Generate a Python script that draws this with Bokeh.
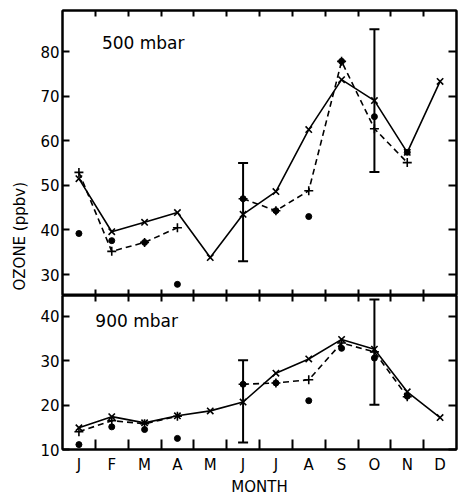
from bokeh.plotting import figure
from bokeh.models import FixedTicker, LinearAxis, Range1d, Label, Whisker, ColumnDataSource, TeeHead, Title
from bokeh.layouts import column
from bokeh.embed import file_html
from bokeh.resources import INLINE

nan = float("nan")
month_labels = ["J", "F", "M", "A", "M", "J", "J", "A", "S", "O", "N", "D"]
months = list(range(1, 13))

# 500 mbar panel
top_solid = [51.5, 39.6, 41.7, 43.9, 33.8, 43.5, 48.6, 62.5, 73.7, 69.0, 57.4, 73.3]
top_dashed = [52.9, 35.2, 37.2, 40.5, nan, 47.0, 44.3, 48.8, 77.8, 62.7, 55.1, nan]
top_dots = [39.2, 37.6, 37.2, 27.8, nan, 47.0, 44.3, 43.0, 77.8, 65.4, 57.4, nan]
err_months = [6, 10]
top_err_low = [33.0, 53.0]
top_err_high = [55.0, 85.0]

# 900 mbar panel
bot_solid = [14.9, 17.4, 16.0, 17.6, 18.7, 20.7, 27.2, 30.4, 34.8, 32.6, 23.0, 17.2]
bot_dashed = [14.0, 16.5, 15.8, 17.5, nan, 24.7, 25.0, 25.7, 34.0, 32.0, 21.9, nan]
bot_dots = [11.1, 15.1, 14.5, 12.5, nan, 24.7, 25.0, 21.0, 32.8, 30.6, 22.0, nan]
bot_err_low = [11.6, 20.1]
bot_err_high = [30.1, 43.8]

top_ticks = [30, 40, 50, 60, 70, 80]
bot_ticks = [10, 20, 30, 40]
month_bounds = [m + 0.5 for m in months[:-1]]

FONT = "DejaVu Sans"


def base_fig(h, yr, bl, br, bt, bb):
    p = figure(width=459, height=h, x_range=Range1d(0.5, 12.5), y_range=Range1d(*yr),
               output_backend="svg", toolbar_location=None,
               x_axis_location=None, y_axis_location=None,
               min_border_left=bl, min_border_right=br, min_border_top=bt, min_border_bottom=bb)
    p.grid.grid_line_color = None
    p.outline_line_color = "black"
    p.outline_line_width = 2
    p.background_fill_color = "white"
    p.border_fill_color = "white"
    return p


def style_axis(ax):
    ax.major_tick_out = 0
    ax.minor_tick_out = 0
    ax.axis_line_width = 2
    ax.major_tick_line_width = 2
    ax.minor_tick_line_width = 2
    ax.major_label_text_font = FONT
    ax.major_label_text_font_size = "15px"
    ax.major_label_text_color = "black"


def label_axis(p, loc, ticks, tick_in, standoff, minor=None, overrides=None):
    ax = LinearAxis(ticker=FixedTicker(ticks=ticks, minor_ticks=minor or []))
    style_axis(ax)
    ax.major_tick_in = tick_in
    ax.minor_tick_in = 10
    ax.major_label_standoff = standoff
    if overrides:
        ax.major_label_overrides = overrides
    p.add_layout(ax, loc)
    return ax


def tick_only_axis(p, loc, ticks, tick_in):
    # ticks without labels: drawn as minor ticks so that no label texts exist
    ax = LinearAxis(ticker=FixedTicker(ticks=[], minor_ticks=ticks))
    style_axis(ax)
    ax.major_tick_in = 0
    ax.minor_tick_in = tick_in
    ax.major_label_standoff = 0
    p.add_layout(ax, loc)
    return ax


def draw_series(p, solid, dashed, dots, err_low, err_high):
    p.line(months, solid, line_color="black", line_width=1.6)
    p.scatter(months, solid, marker="x", size=9, line_color="black", line_width=1.6)
    p.line(months, dashed, line_color="black", line_width=1.6, line_dash="6 4")
    p.scatter(months, dashed, marker="cross", size=9, line_color="black", line_width=1.6)
    p.scatter(months, dots, marker="circle", size=6, fill_color="black", line_color="black")
    src = ColumnDataSource(dict(x=err_months, low=err_low, high=err_high))
    w = Whisker(base="x", lower="low", upper="high", source=src, dimension="height",
                line_width=2, line_color="black",
                upper_head=TeeHead(size=10, line_width=2), lower_head=TeeHead(size=10, line_width=2))
    p.add_layout(w)


# top panel
top = base_fig(295, (25.3, 89.2), 62, 1, 10, 0)
label_axis(top, "left", top_ticks, tick_in=7, standoff=3)
tick_only_axis(top, "right", top_ticks, 8)
tick_only_axis(top, "above", month_bounds, 6)
tick_only_axis(top, "below", month_bounds, 6)
draw_series(top, top_solid, top_dashed, top_dots, top_err_low, top_err_high)
top.add_layout(Label(x=1.7, y=82.0, text="500 mbar", text_font=FONT, text_font_size="17px",
                     text_baseline="middle", text_align="left", text_color="black"))
ylab = Title(text="OZONE (ppbv)", align="left", offset=5, text_font=FONT, text_font_size="15px",
             text_font_style="normal", text_color="black", standoff=17)
top.add_layout(ylab, "left")

# bottom panel
bot = base_fig(203, (10.0, 44.7), 60, 3, 0, 48)
xax = label_axis(bot, "below", months, tick_in=0, standoff=6, minor=month_bounds,
                 overrides={m: lab for m, lab in zip(months, month_labels)})
xax.axis_label = "MONTH"
xax.axis_label_standoff = 1
xax.axis_label_text_font = FONT
xax.axis_label_text_font_size = "15px"
xax.axis_label_text_font_style = "normal"
xax.axis_label_text_color = "black"
label_axis(bot, "left", bot_ticks, tick_in=7, standoff=3)
tick_only_axis(bot, "right", bot_ticks, 8)
tick_only_axis(bot, "above", month_bounds, 6)
draw_series(bot, bot_solid, bot_dashed, bot_dots, bot_err_low, bot_err_high)
bot.add_layout(Label(x=1.5, y=38.9, text="900 mbar", text_font=FONT, text_font_size="17px",
                     text_baseline="middle", text_align="left", text_color="black"))

layout = column(top, bot, spacing=0)
open("out.html", "w").write(file_html(layout, INLINE))
